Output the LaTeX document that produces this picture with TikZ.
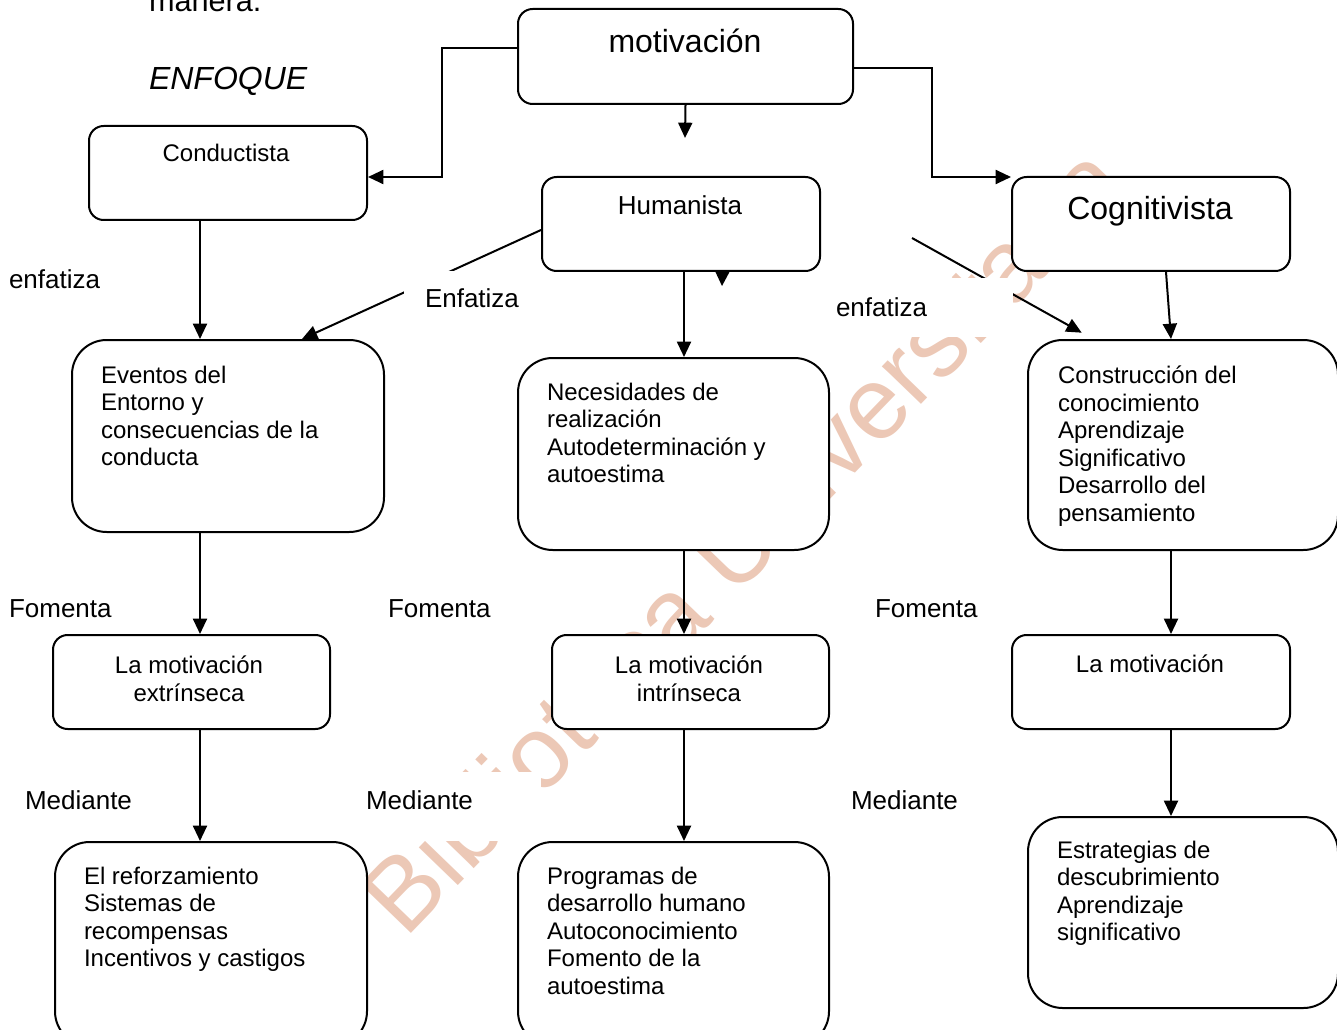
\documentclass[tikz,border=0pt]{standalone}
\usepackage{fontspec}
\setmainfont{Liberation Sans}
\usetikzlibrary{arrows.meta}

\definecolor{marcaagua}{RGB}{236,200,182}

\tikzset{every picture/.style={line width=1.5pt}}
\tikzset{
  caja/.style={draw, fill=white, rounded corners=11pt, inner sep=0pt, anchor=north west},
  cajaalta/.style={caja, rounded corners=26pt},
  texto/.style={anchor=north west, inner sep=0pt, align=left, font=\fontsize{18}{20.6}\selectfont},
  textocentro/.style={anchor=north, inner sep=0pt, align=center, font=\fontsize{18}{21}\selectfont},
  titulo/.style={anchor=base, inner sep=0pt, font=\fontsize{24}{28}\selectfont},
  etiqueta/.style={anchor=base west, inner sep=0pt, font=\fontsize{19.5}{23}\selectfont},
  flecha/.style={-{Triangle[width=10.5pt,length=11.5pt]}},
}

\begin{document}
\begin{tikzpicture}[x=0.75pt,y=0.75pt,yscale=-1,xscale=1]
	\useasboundingbox (0,0) rectangle (1337,1030);
	
	% Marca de agua
	\node[anchor=base west, inner sep=0pt, rotate=46, text=marcaagua, font=\fontsize{77}{80}\selectfont] (marca) at (405,940) {Biblioteca Universitaria};
	
	% Texto suelto
	\node[anchor=base west, inner sep=0pt, font=\fontsize{23}{27}\selectfont] (manera) at (148,12) {manera.};
	\node[anchor=base west, inner sep=0pt, font=\fontsize{24}{28}\selectfont\itshape] (enfoque) at (148,90) {ENFOQUE};
	
	% Cajas
	\node[caja, minimum width=251.25pt, minimum height=71.25pt] (motiv) at (517,8) {};
	\node[caja, minimum width=208.5pt, minimum height=70.5pt] (conduct) at (88,125) {};
	\node[caja, minimum width=208.5pt, minimum height=70.5pt] (human) at (541,176) {};
	\node[caja, minimum width=208.5pt, minimum height=70.5pt] (cognit) at (1011,176) {};
	\node[cajaalta, minimum width=234pt, minimum height=144pt] (eventos) at (71,339) {};
	\node[cajaalta, minimum width=233.25pt, minimum height=144pt] (necesid) at (517,357) {};
	\node[cajaalta, minimum width=232.5pt, minimum height=157.5pt] (constr) at (1027,339) {};
	\node[caja, minimum width=207.75pt, minimum height=70.5pt] (extrin) at (52,634) {};
	\node[caja, minimum width=207.75pt, minimum height=70.5pt] (intrin) at (551,634) {};
	\node[caja, minimum width=208.5pt, minimum height=70.5pt] (lamotiv) at (1011,634) {};
	\node[cajaalta, minimum width=234pt, minimum height=153pt] (reforz) at (54,841) {};
	\node[cajaalta, minimum width=233.25pt, minimum height=153pt] (program) at (517,841) {};
	\node[cajaalta, minimum width=232.5pt, minimum height=143.25pt] (estrat) at (1027,816) {};
	
	% Textos de las cajas
	\node[titulo] (tmotiv) at (685,53) {motivación};
	\node[titulo, font=\fontsize{18}{21}\selectfont] (tconduct) at (226,162) {Conductista};
	\node[titulo, font=\fontsize{19.5}{23}\selectfont] (thuman) at (680,215) {Humanista};
	\node[titulo] (tcognit) at (1150,220) {Cognitivista};
	\node[texto] (teventos) at (100,365) {Eventos del\\Entorno y\\consecuencias de la\\conducta};
	\node[texto] (tnecesid) at (546,382) {Necesidades de\\realización\\Autodeterminación y\\autoestima};
	\node[texto] (tconstr) at (1057,365) {Construcción del\\conocimiento\\Aprendizaje\\Significativo\\Desarrollo del\\pensamiento};
	\node[textocentro] (textrin) at (189,655) {La motivación\\extrínseca};
	\node[textocentro] (tintrin) at (689,655) {La motivación\\intrínseca};
	\node[titulo, font=\fontsize{18}{21}\selectfont] (tlamotiv) at (1150,672) {La motivación};
	\node[texto] (treforz) at (83,866) {El reforzamiento\\Sistemas de\\recompensas\\Incentivos y castigos};
	\node[texto] (tprogram) at (546,866) {Programas de\\desarrollo humano\\Autoconocimiento\\Fomento de la\\autoestima};
	\node[texto] (testrat) at (1056,840) {Estrategias de\\descubrimiento\\Aprendizaje\\significativo};
	
	% Flechas
	\coordinate (punta) at (685,138);
	\coordinate (inicio) at (912,238);
	\draw[flecha] (motiv.west |- 0,48) -| (442,177) -- (conduct.east |- 0,177);
	\draw[flecha] (motiv.south) -- (punta);
	\draw[flecha] (motiv.east |- 0,68) -| (932,177) -- (cognit.west |- 0,177);
	\draw[flecha] (200,0 |- conduct.south) -- (200,0 |- eventos.north);
	\draw[flecha] (human.west |- 0,230) -- (302,0 |- eventos.north);
	\draw[flecha] (684,0 |- human.south) -- (684,0 |- necesid.north);
	\draw[flecha, shorten >=9.7pt] (inicio) -- (1093,0 |- constr.north);
	\draw[flecha] (1166,0 |- cognit.south) -- (1171,0 |- constr.north);
	\draw[flecha] (200,0 |- eventos.south) -- (200,0 |- extrin.north);
	\draw[flecha] (684,0 |- necesid.south) -- (684,0 |- intrin.north);
	\draw[flecha] (1171,0 |- constr.south) -- (1171,0 |- lamotiv.north);
	\draw[flecha] (200,0 |- extrin.south) -- (200,0 |- reforz.north);
	\draw[flecha] (684,0 |- intrin.south) -- (684,0 |- program.north);
	\draw[flecha] (1171,0 |- lamotiv.south) -- (1171,0 |- estrat.north);
	\fill (715,271) -- (730,271) -- (722,286) -- cycle;
	
	% Etiquetas
	\node[etiqueta] (enf1) at (8,289) {enfatiza};
	\node[etiqueta, anchor=north west, fill=white, inner xsep=15.75pt, inner ysep=13.5pt] (enf2) at (403,270) {Enfatiza};
	\node[etiqueta, anchor=north west, fill=white, inner xsep=3.75pt, inner ysep=15pt, text width=129pt, align=left] (enf3) at (830,277) {enfatiza};
	\node[etiqueta] (fom1) at (8,617) {Fomenta};
	\node[etiqueta] (fom2) at (387,617) {Fomenta};
	\node[etiqueta] (fom3) at (874,617) {Fomenta};
	\node[etiqueta] (med1) at (24,809) {Mediante};
	\node[etiqueta, anchor=north west, fill=white, inner xsep=15.75pt, inner ysep=14.25pt, text depth=9pt, text width=115.5pt, align=left] (med2) at (344,771) {Mediante};
	\node[etiqueta] (med3) at (850,809) {Mediante};
\end{tikzpicture}
\end{document}
